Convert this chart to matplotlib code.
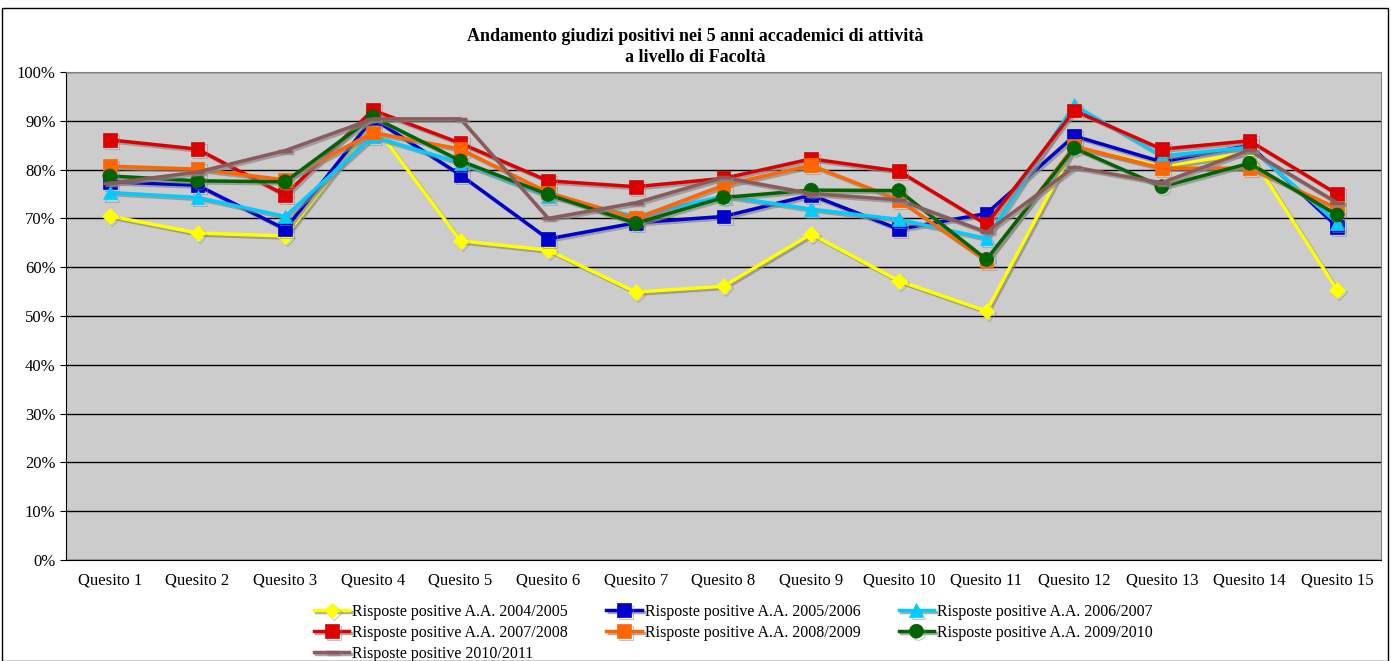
import numpy as np
import matplotlib.pyplot as plt
import matplotlib.patheffects as pe
from matplotlib.patches import Rectangle
from matplotlib.ticker import PercentFormatter

plt.rcParams['font.family'] = ['Liberation Serif', 'DejaVu Serif']

# data (percent of positive answers)
categories = ['Quesito %d' % i for i in range(1, 16)]
a2004 = [70.5, 67.0, 66.4, 89.5, 65.4, 63.5, 54.9, 56.1, 66.8, 57.2, 51.0, 84.6, 80.7, 83.4, 55.3]
a2005 = [77.5, 76.8, 67.8, 90.5, 78.9, 65.8, 69.1, 70.4, 74.8, 67.8, 71.0, 86.9, 81.6, 85.0, 68.3]
a2006 = [75.3, 74.3, 70.4, 86.8, 81.4, 74.6, 70.4, 74.6, 71.9, 69.8, 65.9, 93.2, 82.8, 84.6, 69.1]
a2007 = [86.1, 84.2, 74.8, 92.2, 85.4, 77.7, 76.5, 78.2, 82.2, 79.7, 68.8, 92.1, 84.2, 85.9, 75.0]
a2008 = [80.7, 80.1, 77.9, 87.6, 84.2, 75.3, 70.0, 76.8, 80.9, 73.8, 61.3, 84.8, 80.3, 80.3, 72.1]
a2009 = [78.7, 77.7, 77.5, 90.8, 81.8, 74.9, 69.0, 74.3, 75.8, 75.7, 61.6, 84.4, 76.5, 81.3, 70.7]
a2010 = [77.2, 79.5, 83.9, 90.4, 90.4, 70.0, 73.2, 78.4, 75.1, 73.8, 67.2, 80.5, 77.3, 84.0, 73.2]

series = [
    (a2004, 'Risposte positive A.A. 2004/2005', '#FFFF00', 'D', 8),
    (a2005, 'Risposte positive A.A. 2005/2006', '#0000CC', 's', 10),
    (a2006, 'Risposte positive A.A. 2006/2007', '#00CCFF', '^', 10),
    (a2007, 'Risposte positive A.A. 2007/2008', '#DD0000', 's', 10),
    (a2008, 'Risposte positive A.A. 2008/2009', '#FF6600', 's', 10),
    (a2009, 'Risposte positive A.A. 2009/2010', '#006400', 'o', 10),
    (a2010, 'Risposte positive 2010/2011', '#8B5A5A', '_', 10),
]

fig = plt.figure(figsize=(13.91, 6.61), dpi=100)
ax = fig.add_axes([66/1391, 1-560/661, 1315/1391, 488/661])
ax.set_facecolor('#CCCCCC')

x = np.arange(1, 16)
shadow = [pe.SimpleLineShadow(offset=(1.5, -1.5), shadow_color='#888888', alpha=0.7), pe.Normal()]
handles = []
for vals, label, color, mk, ms in series:
    h, = ax.plot(x, vals, color=color, marker=mk, markersize=ms, linewidth=2.5,
                 markeredgewidth=2.5 if mk == '_' else 0.5, markeredgecolor=color,
                 label=label, path_effects=shadow, zorder=3)
    handles.append(h)

ax.set_xlim(0.5, 15.5)
ax.set_ylim(0, 100)
ax.set_yticks(np.arange(0, 101, 10))
ax.yaxis.set_major_formatter(PercentFormatter(decimals=0))
ax.set_xticks(x)
ax.set_xticklabels(categories)
ax.tick_params(axis='both', labelsize=12, direction='out', length=4, color='black')
ax.tick_params(axis='x', length=0, pad=9)
ax.yaxis.grid(True, color='black', linewidth=1)
ax.set_axisbelow(True)
for s in ['top', 'right']:
    ax.spines[s].set_color('#808080')
for s in ['left', 'bottom']:
    ax.spines[s].set_color('black')

fig.text(0.5, 1-47/661, 'Andamento giudizi positivi nei 5 anni accademici di attività\na livello di Facoltà',
         ha='center', va='center', fontsize=13, fontweight='bold', linespacing=1.25)

order = [0, 3, 6, 1, 4, 2, 5]
fig.legend([handles[i] for i in order], [handles[i].get_label() for i in order],
           ncol=3, loc='upper left', bbox_to_anchor=(314/1391, 1-604/661),
           frameon=False, fontsize=11.5, handlelength=2.2, handletextpad=0.2,
           columnspacing=2.4, labelspacing=0.3, borderpad=0, borderaxespad=0)

fig.patches.append(Rectangle((2/1391, 0), 1386/1391, 1-8/661, transform=fig.transFigure,
                             fill=False, edgecolor='black', linewidth=1))

fig.savefig('out.png', dpi=100)
